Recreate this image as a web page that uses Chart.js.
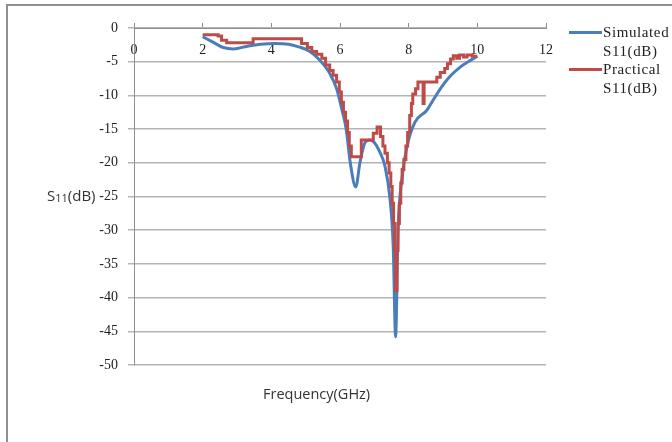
<!DOCTYPE html>
<html>
<head>
<meta charset="utf-8">
<script src="https://cdn.jsdelivr.net/npm/chart.js@4.4.1/dist/chart.umd.min.js"></script>
<style>
  body { margin: 0; background: #fff; }
  #wrap { position: relative; width: 672px; height: 442px; overflow: hidden; }
  #frame { position: absolute; left: 6px; top: 4px; width: 680px; height: 460px;
           border-left: 2px solid #8f8f8f; border-top: 2px solid #8f8f8f; }
  canvas { position: absolute; left: 0; top: 0; }
  .legend { position: absolute; left: 569px; top: 23px; font-family: "Liberation Serif", serif;
            font-size: 15px; line-height: 18.5px; color: #222; letter-spacing: 0.6px; }
  .legend .item { position: relative; padding-left: 34px; }
  .legend .swatch { position: absolute; left: 0; top: 8px; width: 33px; height: 3px; }
  .ytitle { position: absolute; left: 47px; top: 185px; font-family: "Open Sans", sans-serif;
            font-size: 15px; color: #333; }
  .ytitle sub { font-size: 11px; vertical-align: -1px; }
  .xtitle { position: absolute; left: 263px; top: 384px; font-family: "Open Sans", sans-serif;
            font-size: 14.5px; color: #333; }
</style>
</head>
<body>
<div id="wrap">
  <div id="frame"></div>
  <canvas id="s11Chart" width="672" height="442"></canvas>
  <div class="ytitle">S<sub>11</sub>(dB)</div>
  <div class="xtitle">Frequency(GHz)</div>
  <div class="legend" id="legend"></div>
</div>
<script>
// Simulated S11 (smooth curve)
const freqSim = [2.0, 2.3, 2.6, 2.9, 3.3, 3.7, 4.1, 4.5, 4.8, 5.1,
                 5.4, 5.7, 5.9, 6.05, 6.18, 6.3, 6.46, 6.58, 6.73, 6.87,
                 7.0, 7.15, 7.31, 7.46, 7.55, 7.62, 7.69, 7.8, 7.95, 8.18,
                 8.53, 8.7, 8.95, 9.2, 9.5, 9.8, 10.0];
const s11Sim = [-1.3, -2.1, -2.9, -3.1, -2.7, -2.4, -2.3, -2.4, -2.8, -3.4,
                -4.7, -6.7, -9.0, -12.0, -15.0, -20.0, -23.6, -20.0, -17.0, -16.6,
                -17.0, -18.3, -20.5, -25.5, -32.4, -45.8, -30.0, -22.5, -17.6, -14.0,
                -12.2, -10.8, -8.8, -7.2, -5.8, -4.8, -4.2];

// Practical (measured) S11, step-like
const freqPrac = [2.0, 2.45, 2.55, 2.7, 3.47, 4.88, 5.05, 5.18, 5.32, 5.47,
                  5.58, 5.7, 5.8, 5.9, 5.98, 6.04, 6.1, 6.16, 6.22, 6.27,
                  6.33, 6.62, 6.97, 7.08, 7.18, 7.25, 7.31, 7.38, 7.43, 7.48,
                  7.52, 7.56, 7.59, 7.62, 7.66, 7.69, 7.73, 7.77, 7.81, 7.86,
                  7.92, 7.97, 8.03, 8.08, 8.12, 8.2, 8.27, 8.42, 8.45, 8.82,
                  8.92, 9.05, 9.13, 9.22, 9.3, 9.4, 9.48, 9.6, 9.7, 9.85, 10.0];
const s11Prac = [-1.0, -1.2, -1.8, -2.2, -1.6, -2.3, -2.9, -3.5, -3.9, -4.5,
                 -5.5, -6.3, -7.0, -8.0, -9.5, -11.0, -12.5, -13.8, -15.5, -17.5,
                 -19.1, -16.6, -15.6, -14.7, -16.1, -17.5, -18.6, -20.0, -21.5, -23.5,
                 -26.0, -29.0, -33.0, -39.0, -33.0, -29.0, -26.0, -23.0, -21.0, -19.5,
                 -17.5, -15.5, -13.0, -11.2, -9.8, -9.0, -8.0, -11.2, -8.0, -7.3,
                 -6.6, -6.0, -5.3, -4.6, -4.1, -4.5, -4.0, -4.3, -4.0, -4.2, -4.2];

const seriesNames = ['Simulated S11(dB)', 'Practical S11(dB)'];
const seriesColors = ['#4a7ebb', '#be4b48'];

const xTicks = [0, 2, 4, 6, 8, 10, 12];
const yTicks = [0, -5, -10, -15, -20, -25, -30, -35, -40, -45, -50];

function toPoints(xs, ys) {
    return xs.map((x, i) => ({ x: x, y: ys[i] }));
}

const ctx = document.getElementById('s11Chart').getContext('2d');
const s11Chart = new Chart(ctx, {
    type: 'line',
    data: {
        datasets: [{
            label: seriesNames[0],
            data: toPoints(freqSim, s11Sim),
            borderColor: seriesColors[0],
            borderWidth: 3,
            pointRadius: 0,
            cubicInterpolationMode: 'monotone',
            order: 1
        }, {
            label: seriesNames[1],
            data: toPoints(freqPrac, s11Prac),
            borderColor: seriesColors[1],
            borderWidth: 3,
            pointRadius: 0,
            stepped: 'before',   // horizontal run first, then the jump
            order: 0
        }]
    },
    options: {
        responsive: false,
        animation: false,
        devicePixelRatio: 1,
        layout: { padding: { left: 14, top: 28, right: 126, bottom: 77 } },
        plugins: { legend: { display: false }, tooltip: { enabled: false } },
        scales: {
            x: {
                type: 'linear',
                position: { y: 0 },
                min: 0,
                max: 12,
                afterBuildTicks: (scale) => { scale.ticks = xTicks.map(v => ({ value: v })); },
                afterFit: (scale) => { scale.height = 0; },
                grid: { drawOnChartArea: false, drawTicks: true, tickLength: -6, color: '#8f8f8f' },
                border: { color: '#8f8f8f', width: 1 },
                ticks: { padding: 20, color: '#222', font: { family: 'Liberation Serif', size: 14 } }
            },
            y: {
                type: 'linear',
                min: -50,
                max: 0,
                afterBuildTicks: (scale) => { scale.ticks = yTicks.map(v => ({ value: v })); },
                afterFit: (scale) => { scale.width = 120; },
                grid: { color: '#b4b4b4', lineWidth: 1.5, tickLength: 6 },
                border: { color: '#8f8f8f', width: 1 },
                ticks: { padding: 10, color: '#222', font: { family: 'Liberation Serif', size: 14 } }
            }
        }
    }
});

// legend with wrapped labels, like the original
const legend = document.getElementById('legend');
s11Chart.data.datasets.forEach((ds) => {
    const item = document.createElement('div');
    item.className = 'item';
    const parts = ds.label.split(' ');
    item.innerHTML = '<span class="swatch" style="background:' + ds.borderColor + '"></span>' +
        parts[0] + '<br>' + parts[1];
    legend.appendChild(item);
});
</script>
</body>
</html>
